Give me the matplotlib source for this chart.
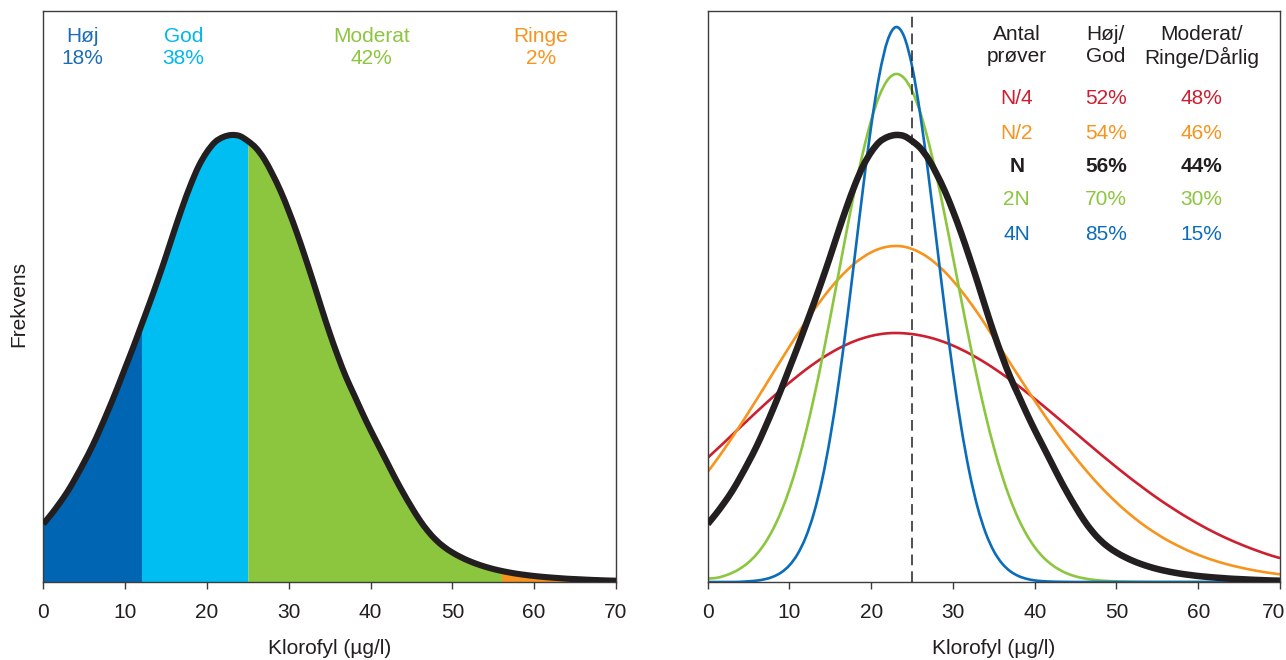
import matplotlib
matplotlib.use("Agg")
import matplotlib.pyplot as plt
from matplotlib.path import Path
from matplotlib.patches import PathPatch
from matplotlib.transforms import ScaledTranslation

plt.rcParams['font.family'] = ['Liberation Sans', 'DejaVu Sans']

# ---------------- data ----------------
klorofyl = list(range(0, 71))  # µg/l

# curve for N samples (also the filled curve of the left panel)
freq_n = [58, 68, 79, 91, 105, 120, 136, 154, 173, 193,
          214, 235, 257, 279, 302, 326, 351, 375, 397, 416,
          430, 440, 445, 447, 446, 441, 434, 423, 408, 391,
          371, 349, 325, 300, 274, 249, 226, 205, 187, 169,
          152, 136, 120, 104, 89, 75, 62, 51, 42, 35,
          29.5, 25, 21.2, 18.0, 15.3, 13.0, 11.1, 9.5, 8.1, 7.0,
          6.0, 5.2, 4.5, 3.9, 3.3, 2.9, 2.5, 2.1, 1.8, 1.5, 1.3]

freq_n4 = [124.2, 131.8, 139.4, 147.2, 154.9, 162.6, 170.3, 177.8, 185.2, 192.4,
           199.4, 206.0, 212.4, 218.3, 223.9, 228.9, 233.5, 237.5, 241.0, 243.8,
           246.1, 247.7, 248.7, 249.0, 248.7, 247.9, 246.6, 244.8, 242.5, 239.7,
           236.4, 232.6, 228.5, 223.9, 219.0, 213.7, 208.1, 202.2, 196.1, 189.7,
           183.2, 176.5, 169.7, 162.8, 155.9, 149.0, 142.0, 135.1, 128.2, 121.5,
           114.8, 108.3, 101.9, 95.8, 89.7, 83.9, 78.3, 73.0, 67.8, 62.9,
           58.2, 53.7, 49.5, 45.5, 41.8, 38.3, 35.0, 31.9, 29.0, 26.3, 23.9]

freq_n2 = [110.1, 121.1, 132.6, 144.6, 157.0, 169.7, 182.7, 195.8, 209.1, 222.3,
           235.3, 248.0, 260.3, 272.1, 283.2, 293.6, 303.0, 311.4, 318.8, 324.8,
           329.7, 333.2, 335.3, 336.0, 335.3, 333.0, 329.3, 324.3, 317.8, 310.2,
           301.3, 291.4, 280.6, 269.2, 256.9, 244.0, 231.5, 218.8, 206.2, 193.6,
           181.2, 169.1, 157.3, 145.9, 134.8, 124.3, 114.3, 104.8, 95.8, 87.4,
           79.5, 72.1, 65.3, 58.9, 53.1, 47.8, 42.8, 38.4, 34.3, 30.5,
           27.2, 24.1, 21.4, 18.9, 16.7, 14.8, 13.0, 11.4, 10.0, 8.8, 7.7]

freq_2n = [3.5, 4.0, 6.1, 9.2, 13.6, 19.7, 27.9, 38.8, 52.9, 70.7,
           92.6, 118.9, 149.6, 184.7, 223.4, 265.0, 308.1, 351.2, 392.5, 430.0,
           461.8, 486.3, 502.0, 508.0, 504.1, 491.1, 469.5, 440.4, 405.5, 366.5,
           325.0, 282.9, 241.6, 202.6, 166.7, 134.6, 106.6, 82.9, 63.3, 47.4,
           34.8, 25.1, 17.8, 12.4, 8.4, 5.6, 3.7, 2.4, 1.5, 1.0,
           0.6, 0.4, 0.2, 0.1, 0, 0, 0, 0, 0, 0,
           0, 0, 0, 0, 0, 0, 0, 0, 0, 0, 0]

freq_4n = [0, 0, 0, 0, 0.2, 0.7, 1.4, 2.8, 5.3, 9.6,
           16.7, 28.0, 44.9, 69.2, 102.4, 145.5, 198.4, 259.7, 326.4, 393.8,
           456.2, 507.2, 541.5, 554.9, 545.9, 515.6, 467.5, 406.9, 340.0, 272.7,
           210.1, 155.3, 110.2, 75.1, 49.1, 30.8, 18.6, 10.8, 6.0, 3.2,
           1.6, 0.8, 0.4, 0.2, 0.1, 0, 0, 0, 0, 0,
           0, 0, 0, 0, 0, 0, 0, 0, 0, 0,
           0, 0, 0, 0, 0, 0, 0, 0, 0, 0, 0]

# status classes (left panel)
class_names = ["Høj", "God", "Moderat", "Ringe"]
class_shares = ["18%", "38%", "42%", "2%"]
class_edges = [0, 12, 25, 56, 70]
class_label_x = [4.8, 17.1, 40.1, 60.8]

# table (right panel)
samples = ["N/4", "N/2", "N", "2N", "4N"]
share_good = ["52%", "54%", "56%", "70%", "85%"]
share_bad = ["48%", "46%", "44%", "30%", "15%"]
threshold = 25

# ---------------- styling ----------------
C_DARKBLUE = "#0066B3"
C_LIGHTBLUE = "#00BEF2"
C_GREEN = "#8CC63F"
C_ORANGE = "#F7941D"
C_RED = "#CC1F2F"
C_BLUE = "#0B6CBA"
C_BLACK = "#231F20"
C_AXIS = "#3C3C3C"

class_colors = [C_DARKBLUE, C_LIGHTBLUE, C_GREEN, C_ORANGE]
class_text_colors = ["#1C6DB5", "#00B7EB", C_GREEN, C_ORANGE]
row_colors = [C_RED, C_ORANGE, C_BLACK, C_GREEN, C_BLUE]
curves = [freq_n4, freq_n2, freq_2n, freq_4n]
curve_colors = [C_RED, C_ORANGE, C_GREEN, C_BLUE]


def smooth_curve(ax, xs, ys, **kw):
    """Draw a smooth line through the read points (Catmull-Rom as Bezier segments)."""
    pts = list(zip(xs, ys))
    n = len(pts)
    verts = [pts[0]]
    codes = [Path.MOVETO]
    for i in range(n - 1):
        p0 = pts[i - 1] if i > 0 else pts[i]
        p1, p2 = pts[i], pts[i + 1]
        p3 = pts[i + 2] if i + 2 < n else pts[i + 1]
        c1 = (p1[0] + (p2[0] - p0[0]) / 6, p1[1] + (p2[1] - p0[1]) / 6)
        c2 = (p2[0] - (p3[0] - p1[0]) / 6, p2[1] - (p3[1] - p1[1]) / 6)
        verts += [c1, c2, p2]
        codes += [Path.CURVE4] * 3
    patch = PathPatch(Path(verts, codes), fill=False, capstyle='butt',
                      joinstyle='round', **kw)
    ax.add_patch(patch)
    return patch


FS = 15
W, H = 1286, 660
fig = plt.figure(figsize=(W / 100, H / 100), dpi=100)

ax_h = 571.3
ax1 = fig.add_axes([43.3 / W, 78 / H, (616 - 43.3) / W, ax_h / H])
ax2 = fig.add_axes([707.7 / W, 78 / H, (1280 - 707.7) / W, ax_h / H])

for ax in (ax1, ax2):
    ax.set_xlim(0, 70)
    ax.set_ylim(0, ax_h)
    ax.set_yticks([])
    ax.set_xticks(range(0, 71, 10))
    ax.tick_params(axis='x', direction='out', length=5, width=1.0,
                   color=C_AXIS, labelsize=FS, labelcolor=C_BLACK, pad=10.4)
    for s in ax.spines.values():
        s.set_color(C_AXIS)
        s.set_linewidth(1.0)

# shift the last tick label of the right panel a little inwards (as in the reference)
last = ax2.xaxis.get_major_ticks()[-1].label1
last.set_transform(last.get_transform() + ScaledTranslation(-6 / 100, 0, fig.dpi_scale_trans))

# ---- left panel ----
for i in range(4):
    lo, hi = class_edges[i], class_edges[i + 1]
    ax1.fill_between(klorofyl, 0, freq_n,
                     where=[lo <= v <= hi for v in klorofyl],
                     color=class_colors[i], linewidth=0, zorder=1)
smooth_curve(ax1, klorofyl, freq_n, edgecolor=C_BLACK, lw=4.4, zorder=3)

tr1 = ax1.get_xaxis_transform()
for name, share, xc, col in zip(class_names, class_shares, class_label_x, class_text_colors):
    ax1.text(xc, 0.9356, name + "\n" + share, transform=tr1, ha='center', va='center',
             fontsize=FS, color=col, linespacing=1.2)

# ---- right panel ----
for ys, col in zip(curves, curve_colors):
    smooth_curve(ax2, klorofyl, ys, edgecolor=col, lw=1.9, zorder=2)
smooth_curve(ax2, klorofyl, freq_n, edgecolor=C_BLACK, lw=4.7, zorder=3)
ax2.axvline(threshold, color=C_BLACK, lw=1.1, linestyle=(0, (7, 4)), zorder=4)

tr2 = ax2.get_xaxis_transform()
col_x = [37.8, 48.7, 60.4]
hdr1 = ["Antal", "Høj/", "Moderat/"]
hdr2 = ["prøver", "God", "Ringe/Dårlig"]
for xc, a, b in zip(col_x, hdr1, hdr2):
    ax2.text(xc, 0.9575, a, transform=tr2, ha='center', va='center', fontsize=FS, color=C_BLACK)
    ax2.text(xc, 0.9190, b, transform=tr2, ha='center', va='center', fontsize=FS, color=C_BLACK)
row_y = [0.8467, 0.7854, 0.7270, 0.6687, 0.6075]
for yy, s, g, b, col in zip(row_y, samples, share_good, share_bad, row_colors):
    fw = 'bold' if s == "N" else 'normal'
    for xc, t in zip(col_x, (s, g, b)):
        ax2.text(xc, yy, t, transform=tr2, ha='center', va='center',
                 fontsize=FS, color=col, fontweight=fw)

# axis labels
fig.text(18.5 / W, (H - 304) / H, "Frekvens", rotation=90, ha='center', va='center',
         fontsize=FS, color=C_BLACK)
fig.text((43.3 + 616) / 2 / W, (H - 648) / H, "Klorofyl (µg/l)", ha='center', va='center',
         fontsize=FS, color=C_BLACK)
fig.text((707.7 + 1280) / 2 / W, (H - 648) / H, "Klorofyl (µg/l)", ha='center', va='center',
         fontsize=FS, color=C_BLACK)

fig.savefig("out.png", dpi=100)
